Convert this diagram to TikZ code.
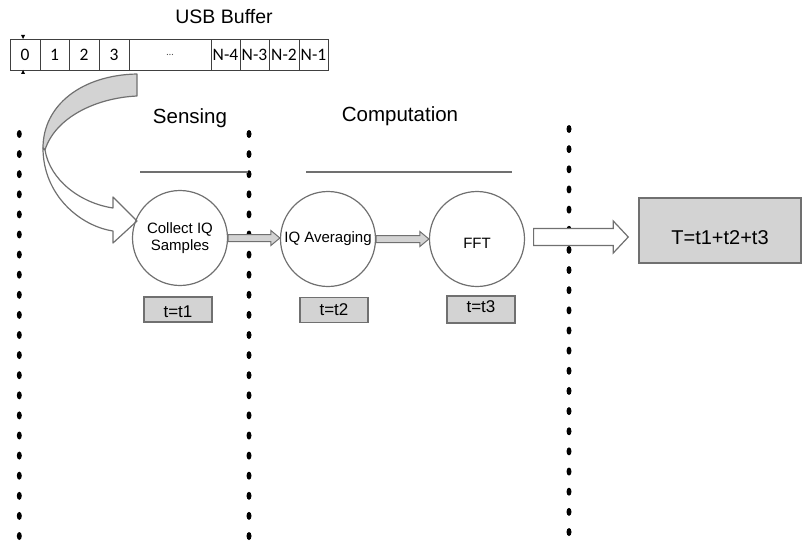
\documentclass[tikz,border=0pt]{standalone}
\usepackage{fontspec}
\setmainfont{Liberation Sans}
\newfontfamily\calib{Carlito}
\usetikzlibrary{calc}
\definecolor{edge}{HTML}{707070}
\definecolor{boxfill}{HTML}{D3D3D3}
\newcommand{\fatarrow}[6]{%
  \path[#1] let \p1=(#2), \p2=(#3) in
  (\x1,{\y1+#4}) -- ({\x2-#6},{\y1+#4}) -- ({\x2-#6},{\y1+#5}) -- (\x2,\y1)
  -- ({\x2-#6},{\y1-#5}) -- ({\x2-#6},{\y1-#4}) -- (\x1,{\y1-#4}) -- cycle;}
\tikzset{
  proc/.style={circle, draw=edge, line width=1.2pt, minimum size=95pt, inner sep=0pt,
    align=center, font=\fontsize{15}{17.5}\selectfont},
  tbox/.style={draw=edge, fill=boxfill, line width=1.5pt, minimum width=68pt,
    minimum height=25pt, inner sep=0pt, font=\fontsize{17}{19}\selectfont},
  cell/.style={draw=black!75, line width=0.8pt, minimum height=31pt, inner sep=0pt,
    font=\calib\fontsize{17.5}{19}\selectfont},
  heading/.style={font=\fontsize{20.5}{23}\selectfont, inner sep=0pt},
  hline/.style={draw=edge, line width=1.5pt},
  dotmark/.style={fill=black},
  curvedpart/.style={draw=edge, line width=1.2pt, line join=round},
}
\begin{document}
\begin{tikzpicture}[x=1pt, y=-1pt]
\useasboundingbox (0,0) rectangle (803,543);

% dotted separators
\foreach \i in {0,...,20} {
  \fill[dotmark] (19.3,{134+20.1*\i}) ellipse [x radius=2.5pt, y radius=4pt];
  \fill[dotmark] (249,{134+20.1*\i}) ellipse [x radius=2.5pt, y radius=4pt];
  \fill[dotmark] (569,{129+20.15*\i}) ellipse [x radius=2.5pt, y radius=4pt];
}

% title and buffer
\node[heading, font=\fontsize{19.5}{22}\selectfont] (title) at (224,17) {USB Buffer};
\node[cell, minimum width=30pt] (b0) at (25,54.5) {0};
\node[cell, minimum width=29pt] (b1) at (54.5,54.5) {1};
\node[cell, minimum width=30pt] (b2) at (84,54.5) {2};
\node[cell, minimum width=30pt] (b3) at (114,54.5) {3};
\node[cell, minimum width=82pt, font=\calib\fontsize{10}{12}\selectfont, text=black!70] (bd) at (170,54.5) {…};
\node[cell, minimum width=29pt] (b4) at (225.5,54.5) {N-4};
\node[cell, minimum width=29pt] (b5) at (254.5,54.5) {N-3};
\node[cell, minimum width=30pt] (b6) at (284,54.5) {N-2};
\node[cell, minimum width=29pt] (b7) at (313.5,54.5) {N-1};
\fill (21,35) -- (25,35) -- (23,39) -- cycle;
\fill (21,74) -- (25,74) -- (23,70) -- cycle;

% section headings and rules
\node[heading] (sens) at (190,118) {Sensing};
\node[heading] (comp) at (400,116) {Computation};
\draw[hline] (140,172) -- (248,172);
\draw[hline] (306,172) -- (512,172);

% curved arrow from the buffer
\path[curvedpart, fill=boxfill] (137,74) .. controls (82,75) and (43,105) .. (43,148)
  -- (45,150) .. controls (55,118) and (95,98) .. (137,96) -- cycle;
\path[curvedpart, fill=white] (43,148) .. controls (43,195) and (80,226) .. (113,231)
  -- (113,243) -- (137,221) -- (113,197) -- (113,208)
  .. controls (80,203) and (50,180) .. (45,150) -- cycle;

% process circles
\node[proc] (c1) at (180,238) {Collect IQ\\Samples};
\node[proc] (c2) at (328,239) {IQ Averaging};
\node[proc] (c3) at (477,239) {\raisebox{-4pt}[11pt][0pt]{FFT}};

% arrows between circles
\fatarrow{draw=edge, fill=boxfill, line width=1pt}{c1.east}{c2.west}{3.5pt}{7.5pt}{9pt}
\fatarrow{draw=edge, fill=boxfill, line width=1pt}{c2.east}{c3.west}{3.5pt}{7.5pt}{9pt}

% time boxes
\node[tbox] (t1) at (178,309.5) {\raisebox{-2pt}[12pt][0pt]{t=t1}};
\node[tbox] (t2) at (334,310) {t=t2};
\node[tbox, minimum height=27pt] (t3) at (481,309.5) {\raisebox{3pt}[12pt][0pt]{t=t3}};

% total box and big arrow
\node[tbox, minimum width=162pt, minimum height=65pt, font=\fontsize{20}{22}\selectfont]
  (T) at (720,230.5) {\raisebox{-7pt}[14pt][0pt]{T=t1+t2+t3}};
\fatarrow{draw=edge, fill=white, line width=1.2pt}{$(c3.east)+(8.5,-2)$}{$(T.west)+(-10,0)$}{8.5pt}{16pt}{15pt}
\end{tikzpicture}
\end{document}
